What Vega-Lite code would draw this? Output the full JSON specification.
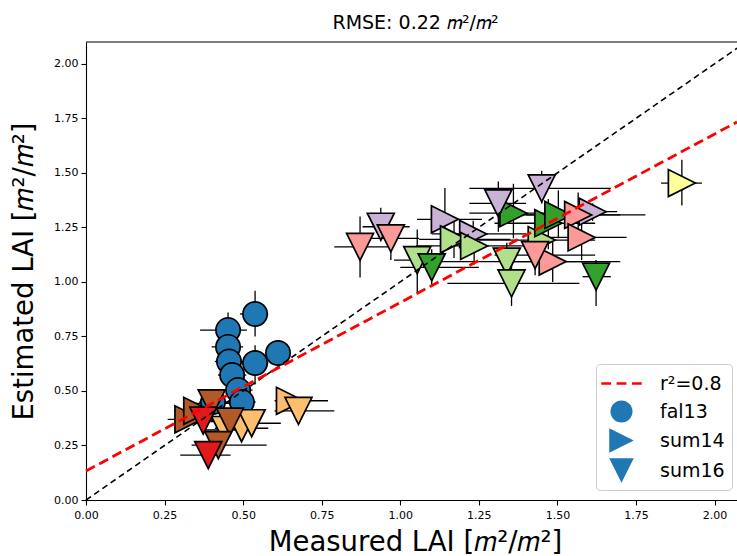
{
  "$schema": "https://vega.github.io/schema/vega-lite/v6.json",
  "width": 651,
  "height": 458,
  "autosize": {"type": "none"},
  "padding": {"left": 86, "top": 42, "right": 0, "bottom": 56},
  "config": {
    "view": {"stroke": null},
    "font": "DejaVu Sans",
    "axis": {
      "labelFont": "DejaVu Sans",
      "titleFont": "DejaVu Sans",
      "labelColor": "black",
      "titleColor": "black",
      "domainColor": "black",
      "tickColor": "black",
      "domainWidth": 1.1,
      "tickWidth": 1.1,
      "tickSize": 5,
      "labelFontSize": 11,
      "titleFontSize": 27.5,
      "titleFontWeight": "normal",
      "grid": false,
      "labelFlush": false
    },
    "axisX": {"labelPadding": 4, "titlePadding": 8, "titleX": 329},
    "axisY": {"labelPadding": 3, "titlePadding": 15}
  },
  "title": {
    "text": "RMSE: 0.22 𝑚²/𝑚²",
    "fontSize": 19,
    "fontWeight": "normal",
    "font": "DejaVu Sans",
    "color": "black",
    "anchor": "middle",
    "offset": 8,
    "dx": 4
  },
  "resolve": {"scale": {"fill": "independent", "shape": "independent"}},
  "datasets": {
    "pts": [
      {"c":"fal13","s":"s1","x":0.404,"y":0.449,"xlo":0.36,"xhi":0.45,"ylo":0.42,"yhi":0.48},
      {"c":"fal13","s":"s1","x":0.538,"y":0.853,"xlo":0.49,"xhi":0.58,"ylo":0.75,"yhi":0.96},
      {"c":"fal13","s":"s1","x":0.452,"y":0.779,"xlo":0.363,"xhi":0.512,"ylo":0.70,"yhi":0.86},
      {"c":"fal13","s":"s1","x":0.452,"y":0.702,"xlo":0.40,"xhi":0.50,"ylo":0.64,"yhi":0.76},
      {"c":"fal13","s":"s1","x":0.611,"y":0.674,"xlo":0.57,"xhi":0.65,"ylo":0.62,"yhi":0.73},
      {"c":"fal13","s":"s1","x":0.538,"y":0.628,"xlo":0.49,"xhi":0.58,"ylo":0.53,"yhi":0.71},
      {"c":"fal13","s":"s1","x":0.455,"y":0.635,"xlo":0.41,"xhi":0.50,"ylo":0.58,"yhi":0.69},
      {"c":"fal13","s":"s1","x":0.465,"y":0.573,"xlo":0.42,"xhi":0.51,"ylo":0.52,"yhi":0.63},
      {"c":"fal13","s":"s1","x":0.484,"y":0.504,"xlo":0.44,"xhi":0.53,"ylo":0.45,"yhi":0.56},
      {"c":"fal13","s":"s1","x":0.496,"y":0.449,"xlo":0.45,"xhi":0.54,"ylo":0.41,"yhi":0.49},
      {"c":"sum14","s":"s9","x":0.326,"y":0.370,"xlo":0.26,"xhi":0.40,"ylo":0.34,"yhi":0.40},
      {"c":"sum14","s":"s9","x":0.354,"y":0.409,"xlo":0.28,"xhi":0.43,"ylo":0.38,"yhi":0.44},
      {"c":"sum14","s":"s6","x":0.649,"y":0.455,"xlo":0.60,"xhi":0.77,"ylo":0.42,"yhi":0.48},
      {"c":"sum14","s":"s7","x":1.142,"y":1.287,"xlo":1.053,"xhi":1.26,"ylo":1.15,"yhi":1.43},
      {"c":"sum14","s":"s7","x":1.232,"y":1.22,"xlo":1.10,"xhi":1.40,"ylo":1.16,"yhi":1.28},
      {"c":"sum14","s":"s7","x":1.612,"y":1.322,"xlo":1.57,"xhi":1.69,"ylo":1.28,"yhi":1.36},
      {"c":"sum14","s":"s2","x":1.171,"y":1.195,"xlo":1.06,"xhi":1.35,"ylo":1.11,"yhi":1.29},
      {"c":"sum14","s":"s2","x":1.235,"y":1.165,"xlo":1.05,"xhi":1.42,"ylo":1.08,"yhi":1.25},
      {"c":"sum14","s":"s2","x":1.45,"y":1.192,"xlo":1.25,"xhi":1.62,"ylo":1.08,"yhi":1.30},
      {"c":"sum14","s":"s3","x":1.36,"y":1.315,"xlo":1.22,"xhi":1.50,"ylo":1.20,"yhi":1.45},
      {"c":"sum14","s":"s3","x":1.471,"y":1.269,"xlo":1.30,"xhi":1.62,"ylo":1.15,"yhi":1.38},
      {"c":"sum14","s":"s3","x":1.503,"y":1.307,"xlo":1.35,"xhi":1.70,"ylo":1.20,"yhi":1.42},
      {"c":"sum14","s":"s4","x":1.566,"y":1.307,"xlo":1.40,"xhi":1.78,"ylo":1.20,"yhi":1.41},
      {"c":"sum14","s":"s4","x":1.577,"y":1.204,"xlo":1.42,"xhi":1.72,"ylo":1.10,"yhi":1.30},
      {"c":"sum14","s":"s4","x":1.485,"y":1.093,"xlo":1.33,"xhi":1.70,"ylo":1.00,"yhi":1.19},
      {"c":"sum14","s":"s8","x":1.896,"y":1.453,"xlo":1.83,"xhi":1.96,"ylo":1.35,"yhi":1.56},
      {"c":"sum16","s":"s6","x":0.442,"y":0.321,"xlo":0.37,"xhi":0.52,"ylo":0.29,"yhi":0.35},
      {"c":"sum16","s":"s6","x":0.495,"y":0.329,"xlo":0.41,"xhi":0.58,"ylo":0.30,"yhi":0.36},
      {"c":"sum16","s":"s6","x":0.527,"y":0.352,"xlo":0.44,"xhi":0.62,"ylo":0.32,"yhi":0.38},
      {"c":"sum16","s":"s6","x":0.676,"y":0.409,"xlo":0.60,"xhi":0.79,"ylo":0.36,"yhi":0.44},
      {"c":"sum16","s":"s9","x":0.40,"y":0.443,"xlo":0.33,"xhi":0.47,"ylo":0.41,"yhi":0.48},
      {"c":"sum16","s":"s9","x":0.458,"y":0.359,"xlo":0.38,"xhi":0.54,"ylo":0.32,"yhi":0.40},
      {"c":"sum16","s":"s9","x":0.421,"y":0.252,"xlo":0.336,"xhi":0.575,"ylo":0.21,"yhi":0.30},
      {"c":"sum16","s":"s5","x":0.373,"y":0.364,"xlo":0.30,"xhi":0.44,"ylo":0.32,"yhi":0.41},
      {"c":"sum16","s":"s5","x":0.389,"y":0.206,"xlo":0.30,"xhi":0.46,"ylo":0.17,"yhi":0.25},
      {"c":"sum16","s":"s7","x":0.938,"y":1.253,"xlo":0.88,"xhi":1.03,"ylo":1.19,"yhi":1.34},
      {"c":"sum16","s":"s7","x":1.312,"y":1.36,"xlo":1.22,"xhi":1.40,"ylo":1.23,"yhi":1.46},
      {"c":"sum16","s":"s7","x":1.45,"y":1.429,"xlo":1.22,"xhi":1.67,"ylo":1.36,"yhi":1.51},
      {"c":"sum16","s":"s4","x":0.872,"y":1.161,"xlo":0.79,"xhi":0.97,"ylo":1.02,"yhi":1.30},
      {"c":"sum16","s":"s4","x":0.97,"y":1.20,"xlo":0.90,"xhi":1.06,"ylo":1.10,"yhi":1.26},
      {"c":"sum16","s":"s4","x":1.429,"y":1.123,"xlo":1.30,"xhi":1.62,"ylo":1.03,"yhi":1.17},
      {"c":"sum16","s":"s2","x":1.054,"y":1.10,"xlo":0.98,"xhi":1.13,"ylo":0.95,"yhi":1.24},
      {"c":"sum16","s":"s2","x":1.339,"y":1.093,"xlo":1.10,"xhi":1.58,"ylo":1.00,"yhi":1.18},
      {"c":"sum16","s":"s2","x":1.354,"y":0.993,"xlo":1.15,"xhi":1.57,"ylo":0.89,"yhi":1.09},
      {"c":"sum16","s":"s3","x":1.10,"y":1.067,"xlo":1.00,"xhi":1.25,"ylo":0.98,"yhi":1.15},
      {"c":"sum16","s":"s3","x":1.623,"y":1.024,"xlo":1.58,"xhi":1.67,"ylo":0.89,"yhi":1.10}
    ],
    "legendEntries": [
      {"c": "r²=0.8"},
      {"c": "fal13"},
      {"c": "sum14"},
      {"c": "sum16"}
    ]
  },
  "layer": [
    {
      "data": {"name": "pts"},
      "mark": {"type": "rule", "color": "black", "strokeWidth": 1.3},
      "encoding": {
        "x": {"field": "xlo", "type": "quantitative",
              "scale": {"domain": [0, 2.0714], "nice": false, "zero": false},
              "axis": {"title": "Measured LAI [𝑚²/𝑚²]", "values": [0, 0.25, 0.5, 0.75, 1, 1.25, 1.5, 1.75, 2], "format": ".2f"}},
        "x2": {"field": "xhi"},
        "y": {"field": "y", "type": "quantitative",
              "scale": {"domain": [0, 2.1], "nice": false, "zero": false},
              "axis": {"title": "Estimated LAI [𝑚²/𝑚²]", "values": [0, 0.25, 0.5, 0.75, 1, 1.25, 1.5, 1.75, 2], "format": ".2f"}}
      }
    },
    {
      "data": {"name": "pts"},
      "mark": {"type": "rule", "color": "black", "strokeWidth": 1.3},
      "encoding": {
        "x": {"field": "x", "type": "quantitative", "scale": {"domain": [0, 2.0714], "nice": false, "zero": false},
              "axis": {"title": "Measured LAI [𝑚²/𝑚²]", "values": [0, 0.25, 0.5, 0.75, 1, 1.25, 1.5, 1.75, 2], "format": ".2f"}},
        "y": {"field": "ylo", "type": "quantitative", "scale": {"domain": [0, 2.1], "nice": false, "zero": false},
              "axis": {"title": "Estimated LAI [𝑚²/𝑚²]", "values": [0, 0.25, 0.5, 0.75, 1, 1.25, 1.5, 1.75, 2], "format": ".2f"}},
        "y2": {"field": "yhi"}
      }
    },
    {
      "data": {"name": "pts"},
      "mark": {"type": "point", "filled": true, "stroke": "black", "strokeWidth": 1.7, "size": 729, "opacity": 1},
      "encoding": {
        "x": {"field": "x", "type": "quantitative", "scale": {"domain": [0, 2.0714], "nice": false, "zero": false},
              "axis": {"title": "Measured LAI [𝑚²/𝑚²]", "values": [0, 0.25, 0.5, 0.75, 1, 1.25, 1.5, 1.75, 2], "format": ".2f"}},
        "y": {"field": "y", "type": "quantitative", "scale": {"domain": [0, 2.1], "nice": false, "zero": false},
              "axis": {"title": "Estimated LAI [𝑚²/𝑚²]", "values": [0, 0.25, 0.5, 0.75, 1, 1.25, 1.5, 1.75, 2], "format": ".2f"}},
        "fill": {"field": "s", "type": "nominal",
                 "scale": {"domain": ["s1","s2","s3","s4","s5","s6","s7","s8","s9"],
                           "range": ["#1f77b4","#b2df8a","#33a02c","#fb9a99","#e31a1c","#fdbf6f","#cab2d6","#ffff99","#b15928"]},
                 "legend": null},
        "shape": {"field": "c", "type": "nominal",
                  "scale": {"domain": ["r²=0.8", "fal13", "sum14", "sum16"],
                            "range": ["M-1.65,-0.11L-0.85,-0.11L-0.85,0.11L-1.65,0.11ZM-0.4,-0.11L0.4,-0.11L0.4,0.11L-0.4,0.11ZM0.85,-0.11L1.65,-0.11L1.65,0.11L0.85,0.11Z",
                                      "M-0.9,0A0.9,0.9,0,1,1,0.9,0A0.9,0.9,0,1,1,-0.9,0Z",
                                      "M1,0L-1,-1L-1,1Z",
                                      "M0,1L-1,-1L1,-1Z"]},
                  "legend": null}
      }
    },
    {
      "data": {"name": "legendEntries"},
      "mark": {"type": "point", "filled": true, "opacity": 0, "strokeWidth": 0},
      "encoding": {
        "fill": {"field": "c", "type": "nominal",
                 "scale": {"domain": ["r²=0.8", "fal13", "sum14", "sum16"],
                           "range": ["#ff0000", "#1f77b4", "#1f77b4", "#1f77b4"]},
                 "legend": {
                    "title": null, "orient": "none", "legendX": 510, "legendY": 322, "direction": "vertical",
                    "padding": 7, "labelFont": "DejaVu Sans", "labelFontSize": 19, "labelColor": "black",
                    "labelOffset": 26, "labelLimit": 300, "symbolSize": 600, "symbolOffset": 6, "rowPadding": 5,
                    "strokeColor": "#cccccc", "fillColor": "rgba(255,255,255,0.8)", "cornerRadius": 4,
                    "symbolOpacity": 1, "symbolStrokeWidth": 0}},
        "shape": {"field": "c", "type": "nominal",
                  "scale": {"domain": ["r²=0.8", "fal13", "sum14", "sum16"],
                            "range": ["M-1.65,-0.11L-0.85,-0.11L-0.85,0.11L-1.65,0.11ZM-0.4,-0.11L0.4,-0.11L0.4,0.11L-0.4,0.11ZM0.85,-0.11L1.65,-0.11L1.65,0.11L0.85,0.11Z",
                                      "M-0.9,0A0.9,0.9,0,1,1,0.9,0A0.9,0.9,0,1,1,-0.9,0Z",
                                      "M1,0L-1,-1L-1,1Z",
                                      "M0,1L-1,-1L1,-1Z"]},
                  "legend": {
                    "title": null, "orient": "none", "legendX": 510, "legendY": 322, "direction": "vertical",
                    "padding": 7, "labelFont": "DejaVu Sans", "labelFontSize": 19, "labelColor": "black",
                    "labelOffset": 26, "labelLimit": 300, "symbolSize": 600, "symbolOffset": 6, "rowPadding": 5,
                    "strokeColor": "#cccccc", "fillColor": "rgba(255,255,255,0.8)", "cornerRadius": 4,
                    "symbolOpacity": 1, "symbolStrokeWidth": 0}}
      }
    },
    {
      "data": {"values": [{"x": 0, "y": 0}, {"x": 2.0714, "y": 2.0714}]},
      "mark": {"type": "line", "color": "black", "strokeWidth": 1.6, "strokeDash": [6, 4]},
      "encoding": {
        "x": {"field": "x", "type": "quantitative", "scale": {"domain": [0, 2.0714], "nice": false, "zero": false},
              "axis": {"title": "Measured LAI [𝑚²/𝑚²]", "values": [0, 0.25, 0.5, 0.75, 1, 1.25, 1.5, 1.75, 2], "format": ".2f"}},
        "y": {"field": "y", "type": "quantitative", "scale": {"domain": [0, 2.1], "nice": false, "zero": false},
              "axis": {"title": "Estimated LAI [𝑚²/𝑚²]", "values": [0, 0.25, 0.5, 0.75, 1, 1.25, 1.5, 1.75, 2], "format": ".2f"}}
      }
    },
    {
      "data": {"values": [{"x": 0, "y": 0.133}, {"x": 2.0714, "y": 1.733}]},
      "mark": {"type": "line", "color": "#ff0000", "strokeWidth": 2.8, "strokeDash": [10, 5]},
      "encoding": {
        "x": {"field": "x", "type": "quantitative", "scale": {"domain": [0, 2.0714], "nice": false, "zero": false},
              "axis": {"title": "Measured LAI [𝑚²/𝑚²]", "values": [0, 0.25, 0.5, 0.75, 1, 1.25, 1.5, 1.75, 2], "format": ".2f"}},
        "y": {"field": "y", "type": "quantitative", "scale": {"domain": [0, 2.1], "nice": false, "zero": false},
              "axis": {"title": "Estimated LAI [𝑚²/𝑚²]", "values": [0, 0.25, 0.5, 0.75, 1, 1.25, 1.5, 1.75, 2], "format": ".2f"}}
      }
    },
    {
      "data": {"values": [{"x": 0, "x2": 2.0714, "y": 2.1}]},
      "mark": {"type": "rule", "color": "black", "strokeWidth": 1.1},
      "encoding": {
        "x": {"field": "x", "type": "quantitative", "scale": {"domain": [0, 2.0714], "nice": false, "zero": false},
              "axis": {"title": "Measured LAI [𝑚²/𝑚²]", "values": [0, 0.25, 0.5, 0.75, 1, 1.25, 1.5, 1.75, 2], "format": ".2f"}},
        "x2": {"field": "x2"},
        "y": {"field": "y", "type": "quantitative", "scale": {"domain": [0, 2.1], "nice": false, "zero": false},
              "axis": {"title": "Estimated LAI [𝑚²/𝑚²]", "values": [0, 0.25, 0.5, 0.75, 1, 1.25, 1.5, 1.75, 2], "format": ".2f"}}
      }
    }
  ]
}
